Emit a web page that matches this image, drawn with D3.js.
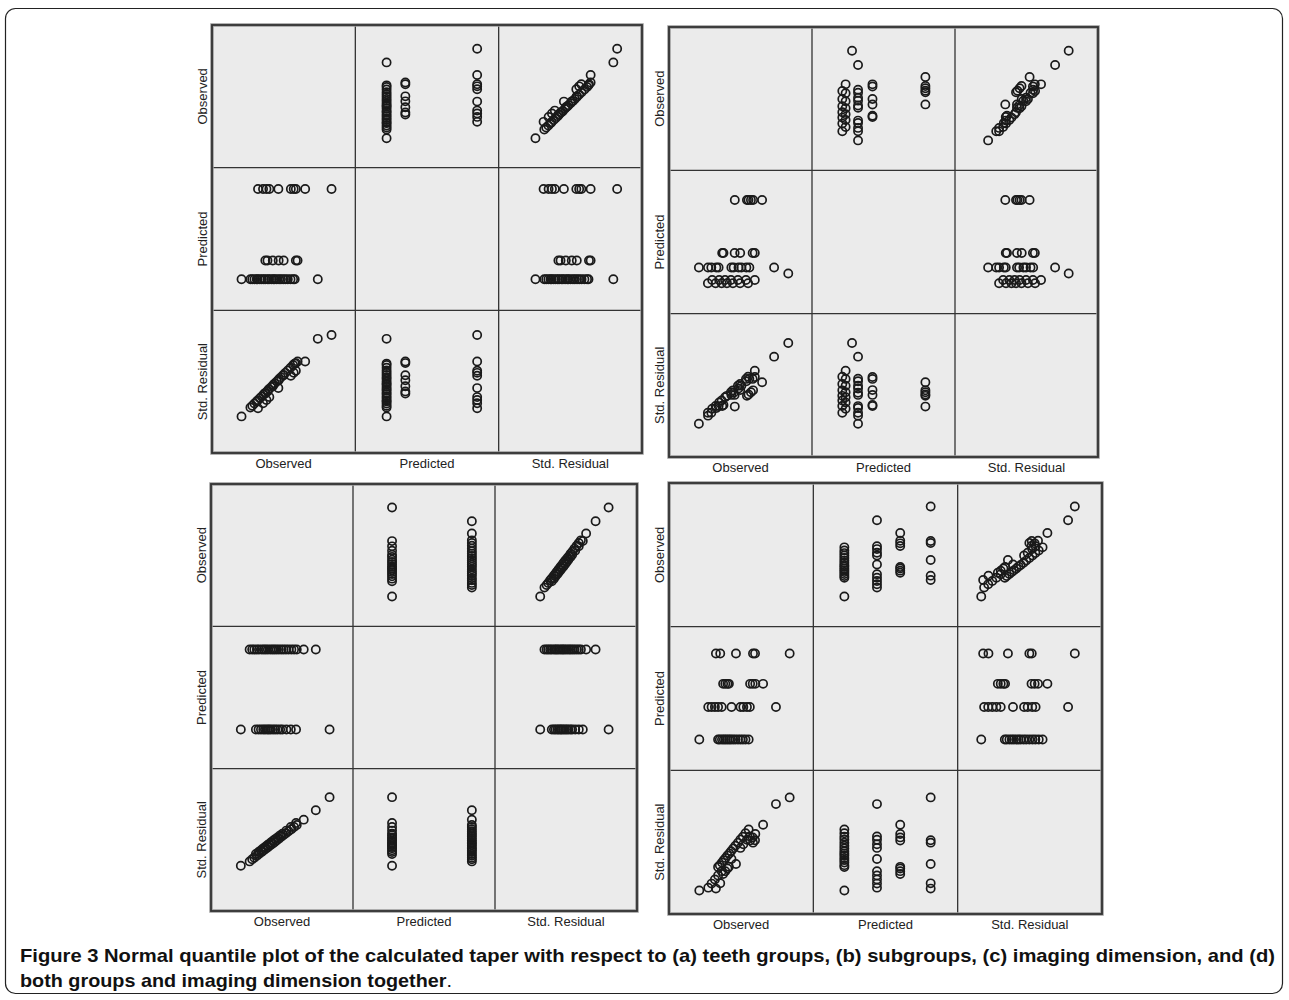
<!DOCTYPE html>
<html><head><meta charset="utf-8">
<script src="https://cdn.jsdelivr.net/npm/d3@7"></script>
<style>body{margin:0;background:#fff}</style>
</head><body>
<svg id="chart" width="1289" height="1000"></svg>
<script>
// Variable names of each scatter-plot matrix
const variables = ["Observed", "Predicted", "Std. Residual"];
const domainObserved = [0, 10];
const domainPredicted = [0, 10];
const domainResidual = [-3, 3];

// (a) teeth groups
const observedA = [8.34, 6.50, 5.85, 5.70, 5.50, 4.63, 4.00, 3.80, 3.56, 3.21,
  3.72, 3.87, 4.24, 4.65, 5.00, 5.85, 5.97,
  2.06, 7.38, 2.68, 2.81, 2.96, 3.12, 3.18, 3.34, 3.47, 3.61, 3.72, 3.89, 3.98, 4.14, 4.28, 4.37, 4.52, 4.68, 4.81, 4.97, 5.12, 5.29, 5.48, 5.66, 5.77];
const predictedA = [8.50, 8.50, 8.50, 8.50, 8.50, 8.50, 8.50, 8.50, 8.50, 8.50,
  3.49, 3.49, 3.49, 3.49, 3.49, 3.49, 3.49,
  2.18, 2.18, 2.18, 2.18, 2.18, 2.18, 2.18, 2.18, 2.18, 2.18, 2.18, 2.18, 2.18, 2.18, 2.18, 2.18, 2.18, 2.18, 2.18, 2.18, 2.18, 2.18, 2.18, 2.18, 2.18];
const residualA = [1.96, 0.85, 0.46, 0.37, 0.25, -0.27, -0.65, -0.77, -0.91, -1.12,
  -0.50, -0.41, -0.19, 0.06, 0.27, 0.78, 0.85,
  -1.46, 1.80, -1.09, -1.01, -0.92, -0.83, -0.79, -0.70, -0.62, -0.53, -0.47, -0.37, -0.31, -0.22, -0.13, -0.08, 0.01, 0.11, 0.19, 0.28, 0.37, 0.47, 0.59, 0.70, 0.76];

// (b) subgroups
const observedB = [2.72, 3.26, 3.68, 4.05, 4.47, 4.97, 5.53,
  3.02, 3.51, 3.92, 4.33, 4.82, 5.38, 6.00,
  8.34,
  2.09, 2.73, 2.96, 3.31, 3.47, 4.36, 4.52, 4.86, 5.06, 5.41, 5.62, 7.35,
  3.72, 3.81, 4.59, 4.98, 5.85, 6.00,
  4.60, 5.45, 5.56, 5.73, 5.88, 6.51];
const predictedB = [2.12, 2.12, 2.12, 2.12, 2.12, 2.12, 2.12,
  2.35, 2.35, 2.35, 2.35, 2.35, 2.35, 2.35,
  2.80,
  3.22, 3.22, 3.22, 3.22, 3.22, 3.22, 3.22, 3.22, 3.22, 3.22, 3.22, 3.22,
  4.23, 4.23, 4.23, 4.23, 4.23, 4.23,
  7.93, 7.93, 7.93, 7.93, 7.93, 7.93];
const residualB = [-1.15, -0.86, -0.63, -0.44, -0.21, 0.06, 0.36,
  -0.98, -0.72, -0.50, -0.29, -0.02, 0.27, 0.61,
  1.77,
  -1.61, -1.27, -1.15, -0.95, -0.87, -0.40, -0.31, -0.13, -0.02, 0.17, 0.28, 1.20,
  -0.87, -0.82, -0.40, -0.20, 0.27, 0.35,
  -0.89, -0.44, -0.38, -0.29, -0.21, 0.13];

// (c) imaging dimension
const observedC = [2.10, 3.16, 3.35, 3.52, 3.68, 3.81, 3.96, 4.08, 4.21, 4.37, 4.52, 4.68, 4.87, 5.03, 5.31, 5.62, 5.99, 8.35,
  2.72, 2.90, 3.05, 3.23, 3.38, 3.57, 3.72, 3.86, 4.01, 4.18, 4.33, 4.47, 4.62, 4.78, 4.95, 5.11, 5.28, 5.46, 5.66, 5.85, 6.04, 6.53, 7.38];
const predictedC = [2.75, 2.75, 2.75, 2.75, 2.75, 2.75, 2.75, 2.75, 2.75, 2.75, 2.75, 2.75, 2.75, 2.75, 2.75, 2.75, 2.75, 2.75,
  8.37, 8.37, 8.37, 8.37, 8.37, 8.37, 8.37, 8.37, 8.37, 8.37, 8.37, 8.37, 8.37, 8.37, 8.37, 8.37, 8.37, 8.37, 8.37, 8.37, 8.37, 8.37, 8.37];
const residualC = [-1.09, -0.60, -0.51, -0.44, -0.36, -0.30, -0.23, -0.18, -0.11, -0.04, 0.03, 0.10, 0.19, 0.26, 0.39, 0.54, 0.71, 1.80,
  -0.91, -0.82, -0.75, -0.67, -0.60, -0.51, -0.44, -0.38, -0.31, -0.23, -0.16, -0.10, -0.03, 0.05, 0.13, 0.20, 0.28, 0.36, 0.45, 0.54, 0.63, 0.85, 1.25];

// (d) groups and imaging dimension together
const observedD = [2.10, 3.40, 3.52, 3.67, 3.80, 3.92, 4.05, 4.18, 4.30, 4.45, 4.60, 4.78, 4.95, 5.12, 5.30, 5.52,
  2.72, 2.95, 3.18, 3.40, 3.65, 4.33, 4.95, 5.15, 5.40, 5.60, 7.41,
  3.75, 3.90, 4.05, 4.15, 5.62, 5.80, 5.98, 6.52,
  3.25, 3.55, 4.64, 5.82, 5.96, 8.36];
const predictedD = [2.15, 2.15, 2.15, 2.15, 2.15, 2.15, 2.15, 2.15, 2.15, 2.15, 2.15, 2.15, 2.15, 2.15, 2.15, 2.15,
  4.41, 4.41, 4.41, 4.41, 4.41, 4.41, 4.41, 4.41, 4.41, 4.41, 4.41,
  6.02, 6.02, 6.02, 6.02, 6.02, 6.02, 6.02, 6.02,
  8.13, 8.13, 8.13, 8.13, 8.13, 8.13];
const residualD = [-2.02, -1.04, -0.96, -0.85, -0.75, -0.66, -0.56, -0.47, -0.38, -0.26, -0.15, -0.02, 0.11, 0.23, 0.37, 0.53,
  -1.90, -1.73, -1.56, -1.39, -1.21, -0.70, -0.24, -0.09, 0.10, 0.24, 1.59,
  -1.33, -1.21, -1.10, -1.03, 0.07, 0.20, 0.34, 0.73,
  -1.94, -1.72, -0.91, -0.02, 0.08, 1.87];

const captionBold1 = "Figure 3 Normal quantile plot of the calculated taper with respect to (a) teeth groups, (b) subgroups, (c) imaging dimension, and (d)";
const captionBold2 = "both groups and imaging dimension together";
const captionEnd = ".";

// ---- layout ----
const panels = [
  {obs: observedA, pred: predictedA, res: residualA, x: 212, y: 25, w: 430, h: 428},
  {obs: observedB, pred: predictedB, res: residualB, x: 669, y: 27, w: 429, h: 430},
  {obs: observedC, pred: predictedC, res: residualC, x: 211, y: 484, w: 426, h: 427},
  {obs: observedD, pred: predictedD, res: residualD, x: 669, y: 483, w: 433, h: 431}
];
const domains = [domainObserved, domainPredicted, domainResidual];

const svg = d3.select("#chart");

// outer figure frame
svg.append("rect").attr("x", 5.5).attr("y", 8.5).attr("width", 1277).attr("height", 985)
  .attr("rx", 10).attr("fill", "none").attr("stroke", "#222").attr("stroke-width", 1.2);

panels.forEach(p => {
  const g = svg.append("g").attr("transform", `translate(${p.x},${p.y})`);
  const cw = p.w / 3, ch = p.h / 3;
  const cols = [p.obs, p.pred, p.res];
  const xs = domains.map((d, j) => d3.scaleLinear().domain(d).range([j * cw, (j + 1) * cw]));
  const ys = domains.map((d, i) => d3.scaleLinear().domain(d).range([(i + 1) * ch, i * ch]));

  g.append("rect").attr("width", p.w).attr("height", p.h).attr("fill", "#ebebeb");

  const idx = d3.range(p.obs.length);
  for (let i = 0; i < 3; i++) {
    for (let j = 0; j < 3; j++) {
      if (i === j) continue;
      g.append("g").selectAll("circle").data(idx).join("circle")
        .attr("cx", k => xs[j](cols[j][k]))
        .attr("cy", k => ys[i](cols[i][k]))
        .attr("r", 4.1)
        .attr("fill", "none")
        .attr("stroke", "#1a1a1a")
        .attr("stroke-width", 1.7);
    }
  }
  // inner grid lines
  [1, 2].forEach(k => {
    g.append("line").attr("x1", k * cw).attr("x2", k * cw).attr("y1", 0).attr("y2", p.h)
      .attr("stroke", "#333").attr("stroke-width", 1.3);
    g.append("line").attr("y1", k * ch).attr("y2", k * ch).attr("x1", 0).attr("x2", p.w)
      .attr("stroke", "#333").attr("stroke-width", 1.3);
  });
  // frame
  g.append("rect").attr("width", p.w).attr("height", p.h).attr("fill", "none")
    .attr("stroke", "#9a9a9a").attr("stroke-width", 3.5);
  g.append("rect").attr("width", p.w).attr("height", p.h).attr("fill", "none")
    .attr("stroke", "#333").attr("stroke-width", 1.8);

  // labels
  variables.forEach((v, j) => {
    g.append("text").attr("x", (j + 0.5) * cw).attr("y", p.h + 15)
      .attr("text-anchor", "middle").attr("font-family", "'Liberation Sans', Arial, sans-serif")
      .attr("font-size", 13).attr("fill", "#222").text(v);
    g.append("text").attr("transform", `translate(-5,${(j + 0.5) * ch}) rotate(-90)`)
      .attr("text-anchor", "middle").attr("font-family", "'Liberation Sans', Arial, sans-serif")
      .attr("font-size", 13).attr("fill", "#222").text(v);
  });
});

// caption
const capFont = "'Liberation Sans Narrow', 'Liberation Sans', Arial, sans-serif";
svg.append("text").attr("x", 20).attr("y", 962).attr("font-family", capFont)
  .attr("font-size", 19).attr("font-weight", "bold").attr("fill", "#111")
  .attr("textLength", 1255).attr("lengthAdjust", "spacingAndGlyphs").text(captionBold1);
const t2 = svg.append("text").attr("x", 20).attr("y", 987).attr("font-family", capFont)
  .attr("font-size", 19).attr("fill", "#111")
  .attr("textLength", 432).attr("lengthAdjust", "spacingAndGlyphs");
t2.append("tspan").attr("font-weight", "bold").text(captionBold2);
t2.append("tspan").attr("font-weight", "normal").text(captionEnd);
</script>
</body></html>
